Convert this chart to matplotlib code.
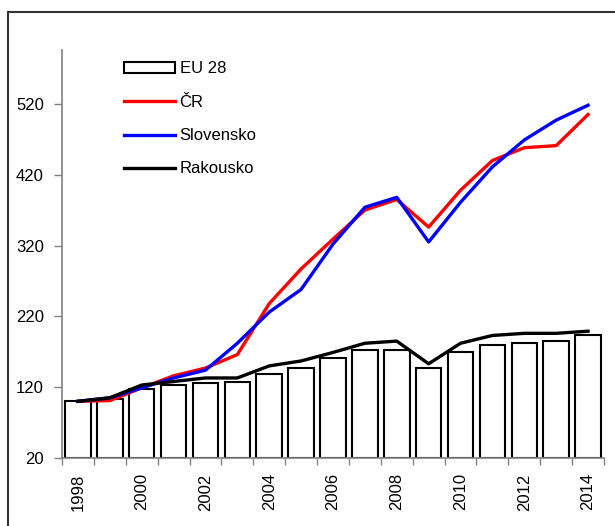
import matplotlib.pyplot as plt
import numpy as np
from matplotlib.patches import Rectangle

plt.rcParams['font.family'] = ['Liberation Sans', 'DejaVu Sans']

# data
roky = list(range(1998, 2015))
eu28 = [100, 103, 117, 123, 126, 128, 139, 147, 161, 172, 172, 147, 169, 180, 182, 185, 193]
cr = [100, 101, 119, 136, 147, 166, 238, 287, 329, 370, 385, 346, 398, 440, 458, 461, 505]
slovensko = [100, 105, 119, 133, 144, 182, 226, 258, 322, 374, 388, 325, 381, 431, 469, 497, 518]
rakousko = [100, 105, 123, 128, 133, 133, 150, 157, 169, 182, 185, 153, 182, 193, 196, 196, 199]

fig = plt.figure(figsize=(6.15, 5.26), dpi=100)
# vnejsi ramecek
fig.patches.append(Rectangle((8 / 615, -0.1), 1.2, 1.1 - 12 / 526, transform=fig.transFigure,
                             fill=False, edgecolor='#333333', linewidth=1.5))

ax = fig.add_axes([62 / 615, 1 - 458 / 526, 542 / 615, 408 / 526])
x = np.arange(len(roky))

ax.bar(x, [v - 20 for v in eu28], bottom=20, width=0.8, color='white', edgecolor='black',
       linewidth=1.5, label='EU 28', zorder=2)
ax.plot(x, cr, color='#ff0000', linewidth=2.4, label='ČR', zorder=3)
ax.plot(x, slovensko, color='#0000ff', linewidth=2.4, label='Slovensko', zorder=4)
ax.plot(x, rakousko, color='black', linewidth=2.4, label='Rakousko', zorder=5)

ax.set_xlim(-0.5, len(roky) - 0.5)
ax.set_ylim(20, 596)
ax.set_yticks(range(20, 521, 100))
ax.tick_params(axis='y', labelsize=12, length=6, width=1, color='#808080', pad=7)

ax.set_xticks(x[::2])
ax.set_xticklabels([str(r) for r in roky[::2]], rotation=90)
ax.set_xticks(np.arange(-0.5, len(roky), 1), minor=True)
ax.tick_params(axis='x', which='major', length=0, labelsize=12, pad=11)
ax.tick_params(axis='x', which='minor', length=5, width=1, color='#808080')

for s in ['top', 'right']:
    ax.spines[s].set_visible(False)
ax.spines['left'].set_color('#808080')
ax.spines['left'].set_linewidth(1.2)
ax.spines['bottom'].set_color('#808080')
ax.spines['bottom'].set_linewidth(1.2)

h, l = ax.get_legend_handles_labels()
poradi = [3, 0, 1, 2]
ax.legend([h[i] for i in poradi], [l[i] for i in poradi], loc='upper left',
          bbox_to_anchor=(0.114, 0.972), frameon=False, fontsize=12, borderpad=0,
          borderaxespad=0, handlelength=3.05, handletextpad=0.3, labelspacing=1.1,
          handleheight=0.6)

fig.savefig('out.png', dpi=100)
